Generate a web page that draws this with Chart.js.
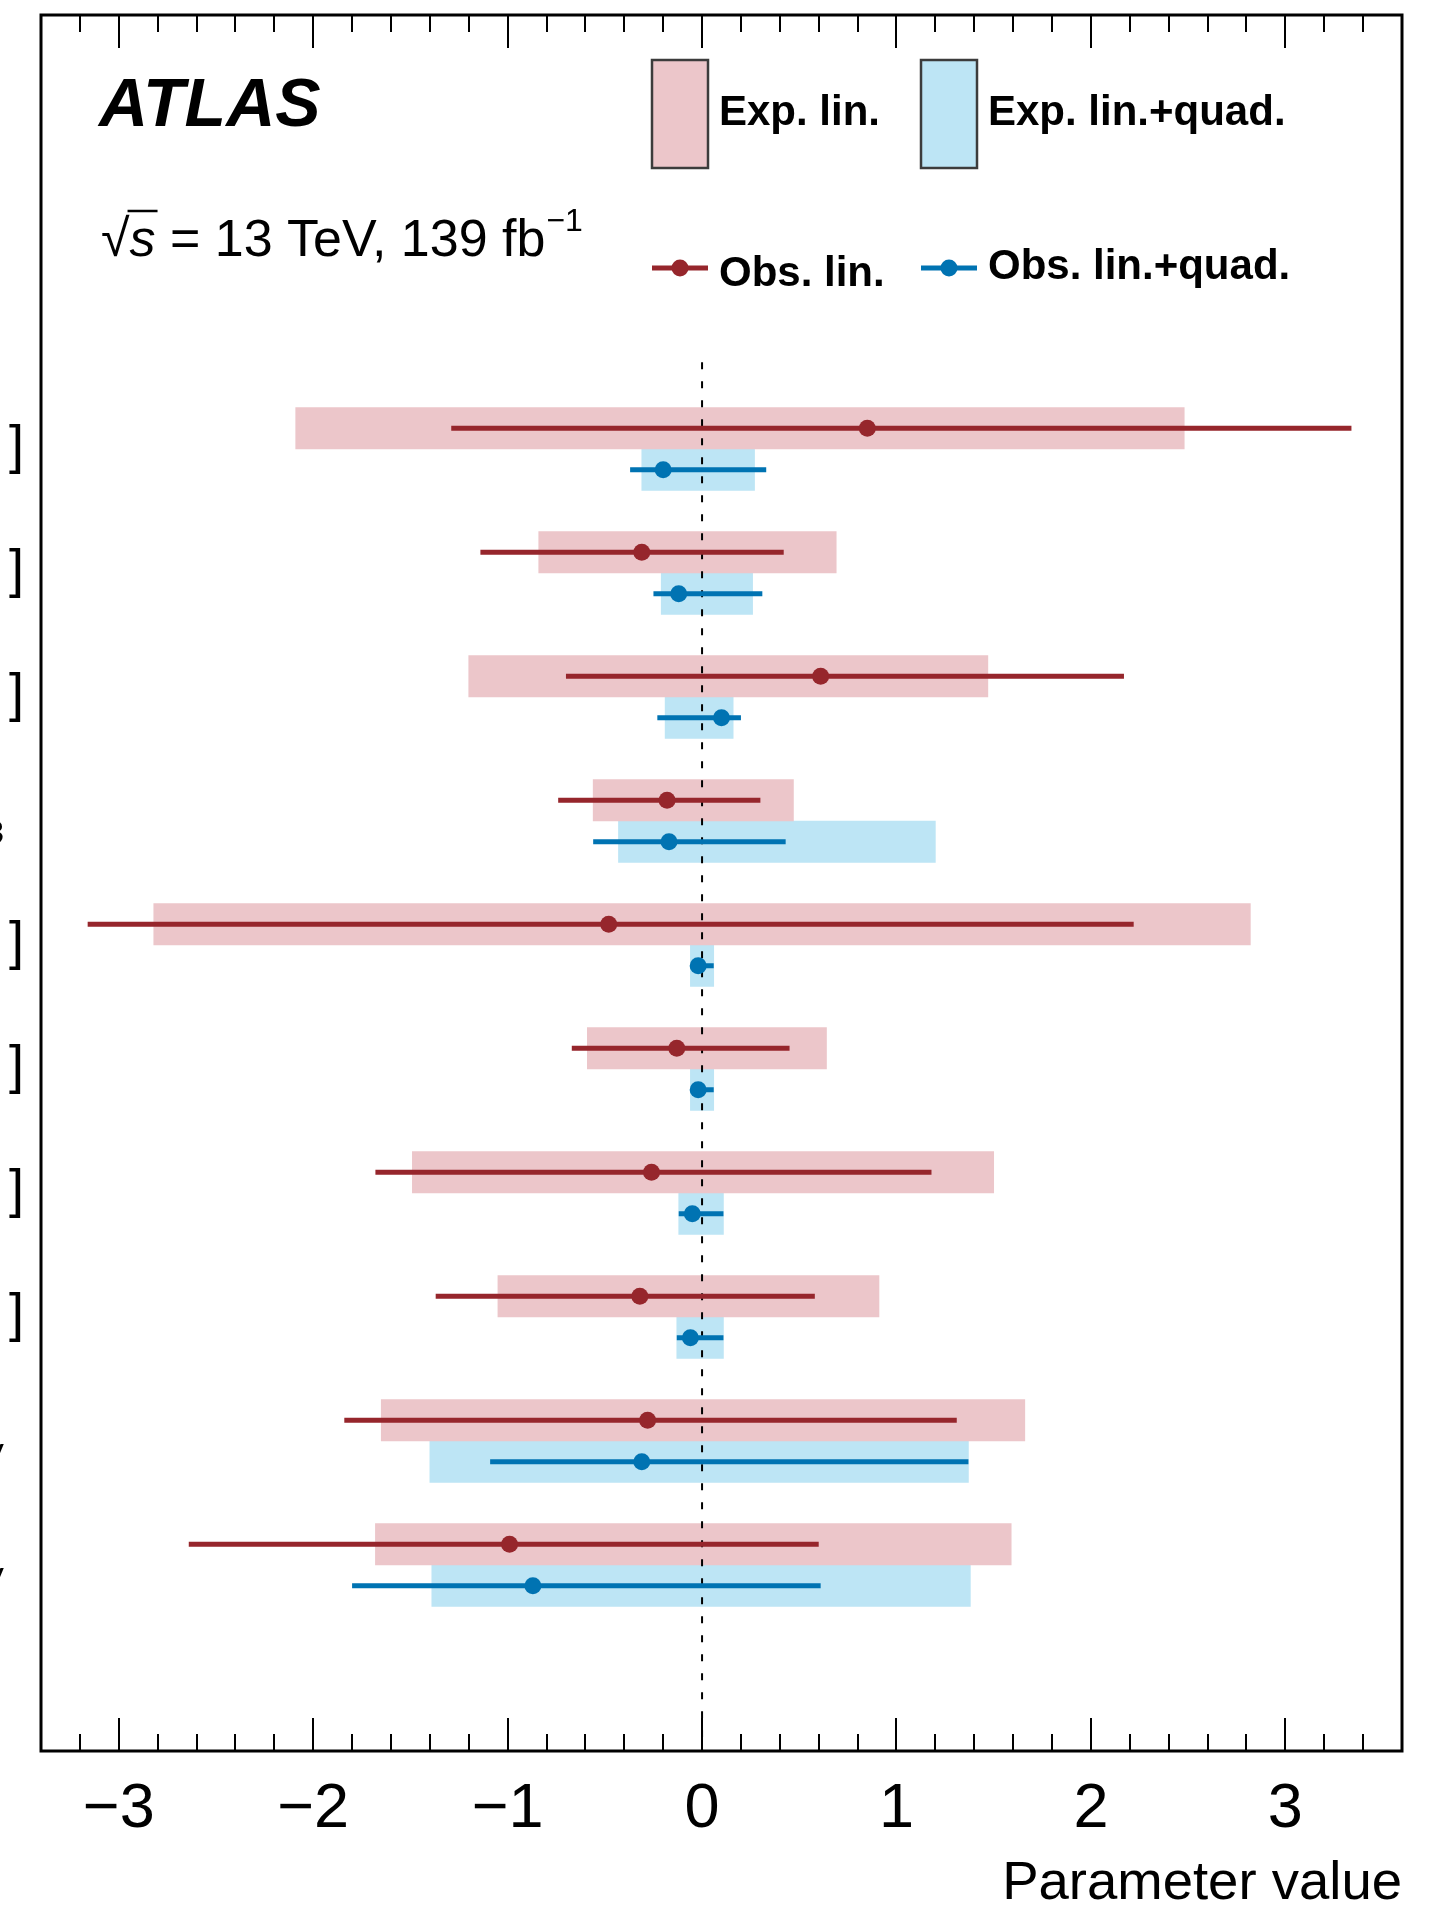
<!DOCTYPE html>
<html><head><meta charset="utf-8">
<script src="https://cdn.jsdelivr.net/npm/chart.js@4/dist/chart.umd.min.js"></script>
<style>html,body{margin:0;padding:0;background:#fff;}canvas{display:block;}</style>
</head><body>
<canvas id="c" width="1435" height="1917" style="width:1435px;height:1917px"></canvas>
<script>
// Visible (clipped) ends of the parameter labels on the left edge
const yLabels = [']', ']', ']', '3', ']', ']', ']', ']', 'V', 'V'];

// Expected intervals, linear
const expLinLo = [-2.09, -0.84, -1.20, -0.56, -2.82, -0.59, -1.49, -1.05, -1.65, -1.68];
const expLinHi = [ 2.48,  0.69,  1.47,  0.47,  2.82,  0.64,  1.50,  0.91,  1.66,  1.59];
// Observed, linear
const obsLin   = [ 0.85, -0.31,  0.61, -0.18, -0.48, -0.13, -0.26, -0.32, -0.28, -0.99];
const obsLinLo = [-1.29, -1.14, -0.70, -0.74, -3.16, -0.67, -1.68, -1.37, -1.84, -2.64];
const obsLinHi = [ 3.34,  0.42,  2.17,  0.30,  2.22,  0.45,  1.18,  0.58,  1.31,  0.60];
// Expected intervals, linear + quadratic
const expQuadLo = [-0.31, -0.21, -0.19, -0.43, -0.06, -0.06, -0.12, -0.13, -1.40, -1.39];
const expQuadHi = [ 0.27,  0.26,  0.16,  1.20,  0.06,  0.06,  0.11,  0.11,  1.37,  1.38];
// Observed, linear + quadratic
const obsQuad   = [-0.20, -0.12,  0.10, -0.17, -0.02, -0.02, -0.05, -0.06, -0.31, -0.87];
const obsQuadLo = [-0.37, -0.25, -0.23, -0.56, -0.05, -0.05, -0.12, -0.13, -1.09, -1.80];
const obsQuadHi = [ 0.33,  0.31,  0.20,  0.43,  0.06,  0.06,  0.11,  0.11,  1.37,  0.61];

const xTickMajor = [-3, -2, -1, 0, 1, 2, 3];
const zeroLine = [{x: 0, y: -1.6}, {x: 0, y: 32}];

const RED_BOX = '#ecc6ca', RED_LINE = '#96262c';
const BLUE_BOX = '#bde5f5', BLUE_LINE = '#0073b2';
const FONT = '"Liberation Sans", Arial, Helvetica, sans-serif';

const linPos = i => 3 * i;
const quadPos = i => 3 * i + 1;

const expLinBars = yLabels.map((_, i) => ({x: [expLinLo[i], expLinHi[i]], y: linPos(i)}));
const expQuadBars = yLabels.map((_, i) => ({x: [expQuadLo[i], expQuadHi[i]], y: quadPos(i)}));
function errSegs(lo, hi, posFn) {
  const out = [];
  lo.forEach((v, i) => { out.push({x: v, y: posFn(i)}, {x: hi[i], y: posFn(i)}, {x: null, y: null}); });
  return out;
}
const obsLinErr = errSegs(obsLinLo, obsLinHi, linPos);
const obsQuadErr = errSegs(obsQuadLo, obsQuadHi, quadPos);
const obsLinPts = obsLin.map((v, i) => ({x: v, y: linPos(i)}));
const obsQuadPts = obsQuad.map((v, i) => ({x: v, y: quadPos(i)}));

const isMajor = v => Math.abs(v - Math.round(v)) < 1e-6;

const framePlugin = {
  id: 'frame',
  afterDatasetsDraw(chart) {
    const {ctx, chartArea: a, scales: {x}} = chart;
    ctx.save();
    ctx.strokeStyle = '#000';
    ctx.lineWidth = 2;
    x.ticks.forEach(t => {
      const px = Math.round(x.getPixelForValue(t.value));
      if (px <= a.left + 2 || px >= a.right - 2) return;
      const len = isMajor(t.value) ? 33 : 17;
      ctx.beginPath();
      ctx.moveTo(px, a.bottom); ctx.lineTo(px, a.bottom - len);
      ctx.moveTo(px, a.top); ctx.lineTo(px, a.top + len);
      ctx.stroke();
    });
    ctx.lineWidth = 3;
    ctx.strokeRect(a.left, a.top, a.right - a.left, a.bottom - a.top);
    ctx.restore();
  }
};

const textPlugin = {
  id: 'texts',
  afterDraw(chart) {
    const {ctx, scales: {y}} = chart;
    const ds = chart.data.datasets;
    ctx.save();
    ctx.fillStyle = '#000';
    ctx.textAlign = 'left';
    ctx.textBaseline = 'alphabetic';
    // ATLAS
    ctx.font = 'italic bold 68px ' + FONT;
    ctx.fillText('ATLAS', 99, 126);
    // sqrt(s) line
    const x0 = 101, base = 256;
    ctx.font = '52px ' + FONT;
    ctx.fillText('√', x0, base);
    const w = ctx.measureText('√').width;
    ctx.font = 'italic 52px ' + FONT;
    ctx.fillText('s', x0 + w, base);
    const sw = ctx.measureText('s').width;
    ctx.strokeStyle = '#000';
    ctx.lineWidth = 2.5;
    ctx.beginPath(); ctx.moveTo(x0 + w - 2, 211); ctx.lineTo(x0 + w + sw + 2, 211); ctx.stroke();
    ctx.font = '52px ' + FONT;
    const rest = ' = 13 TeV, 139 fb';
    ctx.fillText(rest, x0 + w + sw, base);
    const x1 = x0 + w + sw + ctx.measureText(rest).width;
    ctx.font = '32px ' + FONT;
    ctx.fillText('\u22121', x1 + 1, 231);

    // Legend
    const boxes = [[ds[0], 652, 'Exp. lin.', 125], [ds[1], 921, 'Exp. lin.+quad.', 125]];
    boxes.forEach(([d, bx, label, tb]) => {
      ctx.fillStyle = d.backgroundColor;
      ctx.fillRect(bx, 60, 56, 108);
      ctx.strokeStyle = '#3c3c3c'; ctx.lineWidth = 2.5;
      ctx.strokeRect(bx, 60, 56, 108);
      ctx.fillStyle = '#000';
      ctx.font = 'bold 42px ' + FONT;
      ctx.fillText(label, bx + 67, tb);
    });
    const lines = [[ds[3], 652, 'Obs. lin.', 286], [ds[4], 921, 'Obs. lin.+quad.', 279]];
    lines.forEach(([d, lx, label, tb]) => {
      ctx.strokeStyle = d.borderColor; ctx.lineWidth = d.borderWidth;
      ctx.beginPath(); ctx.moveTo(lx, 268); ctx.lineTo(lx + 56, 268); ctx.stroke();
      ctx.fillStyle = d.borderColor;
      ctx.beginPath(); ctx.arc(lx + 28, 268, 8.5, 0, Math.PI * 2); ctx.fill();
      ctx.fillStyle = '#000';
      ctx.font = 'bold 42px ' + FONT;
      ctx.fillText(label, lx + 67, tb);
    });

    // clipped label ends at left edge
    ctx.textAlign = 'right';
    yLabels.forEach((lab, i) => {
      const py = y.getPixelForValue(3 * i + 0.5);
      if (lab === ']') { ctx.font = '54px ' + FONT; ctx.fillText(lab, 24, py + 14); }
      else if (lab === '3') { ctx.font = '32px ' + FONT; ctx.fillText(lab, 4, py + 22); }
      else { ctx.font = '34px ' + FONT; ctx.fillText(lab, 4, py + 26); }
    });
    ctx.restore();
  }
};

new Chart(document.getElementById('c'), {
  type: 'scatter',
  data: {
    datasets: [
      {type: 'bar', label: 'Exp. lin.', data: expLinBars, indexAxis: 'y', backgroundColor: RED_BOX,
       borderWidth: 0, grouped: false, barPercentage: 1, categoryPercentage: 1, order: 4},
      {type: 'bar', label: 'Exp. lin.+quad.', data: expQuadBars, indexAxis: 'y', backgroundColor: BLUE_BOX,
       borderWidth: 0, grouped: false, barPercentage: 1, categoryPercentage: 1, order: 4},
      {type: 'scatter', label: 'zero', data: zeroLine, showLine: true, borderColor: '#000', borderWidth: 2,
       borderDash: [7, 12], pointRadius: 0, order: 3},
      {type: 'scatter', label: 'Obs. lin.', data: obsLinErr, showLine: true, spanGaps: false, borderColor: RED_LINE,
       borderWidth: 5, borderCapStyle: 'butt', pointRadius: 0, order: 2},
      {type: 'scatter', label: 'Obs. lin.+quad.', data: obsQuadErr, showLine: true, spanGaps: false, borderColor: BLUE_LINE,
       borderWidth: 5, borderCapStyle: 'butt', pointRadius: 0, order: 2},
      {type: 'scatter', label: 'Obs. lin. pts', data: obsLinPts, pointRadius: 8.5, pointBackgroundColor: RED_LINE,
       pointBorderWidth: 0, borderWidth: 0, order: 1},
      {type: 'scatter', label: 'Obs. lin.+quad. pts', data: obsQuadPts, pointRadius: 8.5, pointBackgroundColor: BLUE_LINE,
       pointBorderWidth: 0, borderWidth: 0, order: 1}
    ]
  },
  options: {
    responsive: false,
    devicePixelRatio: 1,
    animation: false,
    layout: {padding: {left: 41, top: 15, right: 33, bottom: 0}},
    plugins: {legend: {display: false}, tooltip: {enabled: false}},
    scales: {
      x: {
        type: 'linear', min: -3.4, max: 3.6, position: 'bottom', offset: false,
        afterFit(s) { s.height = 166; },
        grid: {drawOnChartArea: false, drawTicks: false, offset: false},
        border: {display: false},
        ticks: {
          stepSize: 0.2, autoSkip: false, maxRotation: 0, padding: 21, color: '#000',
          font: {family: FONT, size: 63},
          callback: v => isMajor(v) && xTickMajor.includes(Math.round(v)) ? (Math.round(v) < 0 ? '\u2212' + Math.abs(Math.round(v)) : String(Math.round(v))) : ''
        },
        title: {display: true, text: 'Parameter value', align: 'end', color: '#000',
                font: {family: FONT, size: 54.5}, padding: {top: 0, bottom: 0}}
      },
      y: {
        type: 'linear', min: -10, max: 32, reverse: true, display: false, offset: false,
        grid: {offset: false},
        ticks: {stepSize: 3}
      }
    }
  },
  plugins: [framePlugin, textPlugin]
});
</script>
</body></html>
